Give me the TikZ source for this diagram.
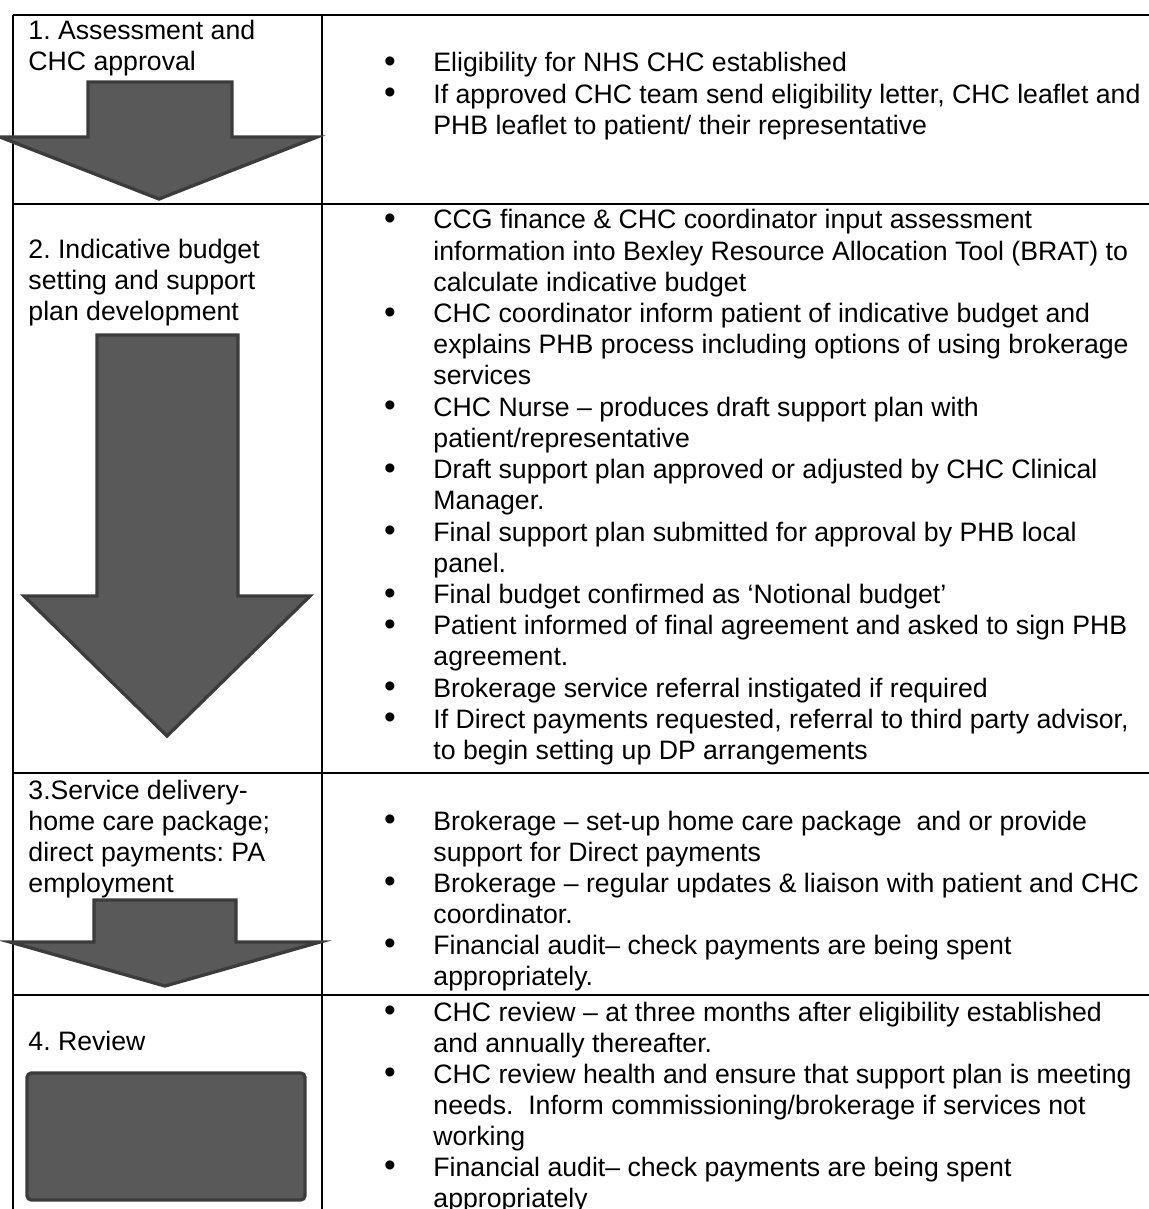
\documentclass[tikz,border=0pt]{standalone}
\usepackage{fontspec}
\setmainfont{Liberation Sans}
\definecolor{arrowfill}{HTML}{595959}
\definecolor{arrowedge}{HTML}{3C3C3C}
\begin{document}
\frenchspacing
\begin{tikzpicture}[x=0.45pt,y=-0.45pt,
  grid/.style={line width=1.1pt, draw=black},
  blk/.style={fill=arrowfill, draw=arrowedge, line width=1.5pt, line join=miter},
  txt/.style={anchor=base west, inner sep=0pt, font=\fontsize{12}{14}\selectfont},
  bul/.style={anchor=center, inner sep=0pt, font=\fontsize{15}{15}\selectfont}]
\useasboundingbox (0,0) rectangle (1149,1209);
\begin{scope}
\clip (0,0) rectangle (1149,1209);
% table grid
\draw[grid] (13,15) -- (1149,15);
\draw[grid] (13,204) -- (1149,204);
\draw[grid] (13,773) -- (1149,773);
\draw[grid] (13,995) -- (1149,995);
\draw[grid] (13,15) -- (13,1209);
\draw[grid] (322,15) -- (322,1209);

% block arrows
\draw[blk] (88,82) -- (232,82) -- (232,137) -- (317,137) -- (159,199) -- (0,137) -- (88,137) -- cycle;
\draw[blk] (97,335) -- (238,335) -- (238,596) -- (310,596) -- (167,736) -- (24,596) -- (97,596) -- cycle;
\draw[blk] (94,900) -- (236,900) -- (236,942) -- (320,942) -- (165,986) -- (10,942) -- (94,942) -- cycle;
\draw[blk, rounded corners=2] (27,1073) rectangle (305,1200);

% left column
\node[txt] (l1a) at (28,40) {1. Assessment and};
\node[txt] (l1b) at (28,71) {CHC approval};
\node[txt] (l2a) at (28,259) {2. Indicative budget};
\node[txt] (l2b) at (28,290) {setting and support};
\node[txt] (l2c) at (28,321) {plan development};
\node[txt] (l3a) at (28,799) {3.Service delivery-};
\node[txt] (l3b) at (28,830) {home care package;};
\node[txt] (l3c) at (28,861) {direct payments: PA};
\node[txt] (l3d) at (28,892) {employment};
\node[txt] (l4a) at (28,1050) {4. Review};

% row 1 right
\foreach \t [count=\i] in {
  {Eligibility for NHS CHC established},
  {If approved CHC team send eligibility letter, CHC leaflet and},
  {PHB leaflet to patient/ their representative}}
  {\node[txt] (rone\i) at (433,{72+31.2*(\i-1)}) {\t};}
\foreach \n in {1,2}
  {\node[bul] (bone\n) at (390,{65+31.2*(\n-1)}) {•};}

% row 2 right
\foreach \t [count=\i] in {
  {CCG finance \& CHC coordinator input assessment},
  {information into Bexley Resource Allocation Tool (BRAT) to},
  {calculate indicative budget},
  {CHC coordinator inform patient of indicative budget and},
  {explains PHB process including options of using brokerage},
  {services},
  {CHC Nurse – produces draft support plan with},
  {patient/representative},
  {Draft support plan approved or adjusted by CHC Clinical},
  {Manager.},
  {Final support plan submitted for approval by PHB local},
  {panel.},
  {Final budget confirmed as ‘Notional budget’},
  {Patient informed of final agreement and asked to sign PHB},
  {agreement.},
  {Brokerage service referral instigated if required},
  {If Direct payments requested, referral to third party advisor,},
  {to begin setting up DP arrangements}}
  {\node[txt] (rtwo\i) at (433,{229+31.2*(\i-1)}) {\t};}
\foreach \n in {1,4,7,9,11,13,14,16,17}
  {\node[bul] (btwo\n) at (390,{222+31.2*(\n-1)}) {•};}

% row 3 right
\foreach \t [count=\i] in {
  {Brokerage – set-up home care package \ and or provide},
  {support for Direct payments},
  {Brokerage – regular updates \& liaison with patient and CHC},
  {coordinator.},
  {Financial audit– check payments are being spent},
  {appropriately.}}
  {\node[txt] (rthree\i) at (433,{830+31*(\i-1)}) {\t};}
\foreach \n in {1,3,5}
  {\node[bul] (bthree\n) at (390,{823+31*(\n-1)}) {•};}

% row 4 right
\foreach \t [count=\i] in {
  {CHC review – at three months after eligibility established},
  {and annually thereafter.},
  {CHC review health and ensure that support plan is meeting},
  {needs. \ Inform commissioning/brokerage if services not},
  {working},
  {Financial audit– check payments are being spent},
  {appropriately}}
  {\node[txt] (rfour\i) at (433,{1021+31*(\i-1)}) {\t};}
\foreach \n in {1,3,6}
  {\node[bul] (bfour\n) at (390,{1014+31*(\n-1)}) {•};}
\end{scope}
\end{tikzpicture}
\end{document}
